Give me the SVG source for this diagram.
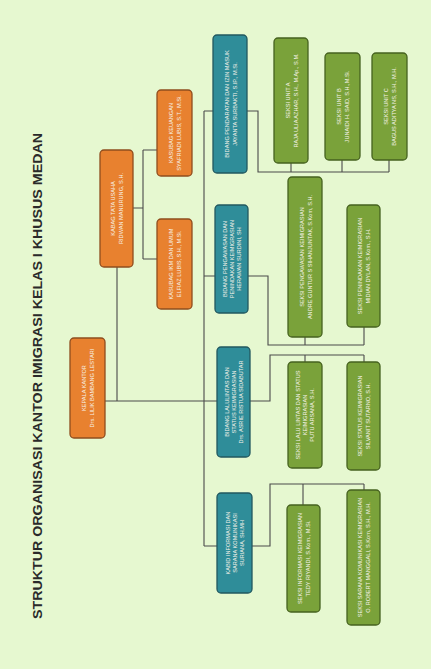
<svg xmlns="http://www.w3.org/2000/svg" width="431" height="669" viewBox="0 0 431 669">
<style>
.bg{fill:#e6f8d0}
.or rect{fill:#e8812f;stroke:#8f4d1e;stroke-width:1.3}
.te rect{fill:#2f8d99;stroke:#22585f;stroke-width:1.3}
.gr rect{fill:#7aa23a;stroke:#46621f;stroke-width:1.3}
.node text{fill:#f7f3ea;font-family:"Liberation Sans",Arial,sans-serif;font-size:5.6px;text-anchor:middle}
.title{fill:#2a2a2a;font-family:"Liberation Sans",Arial,sans-serif;font-size:12px;font-weight:bold;text-anchor:middle}
#connectors path{fill:none;stroke:#4a4a4a;stroke-width:1.1}
</style>
<rect class="bg" x="0" y="0" width="431" height="669"/>
<text class="title" transform="translate(42,376) rotate(-90)" textLength="486" lengthAdjust="spacingAndGlyphs">STRUKTUR ORGANISASI KANTOR IMIGRASI KELAS I KHUSUS MEDAN</text>
<g id="connectors">
<path d="M105,401 H204 M117,267 V401 M204,111 V546 M204,111 H213 M204,276 H215 M204,401 H217 M204,546 H217"/>
<path d="M132,208 H143 M143,150 V259 M143,150 H157 M143,259 H157"/>
<path d="M247,111 H258 V172 H389 M291,163 V172 M342,160 V172 M389,160 V172"/>
<path d="M248,276 H268 V345 H364 M305,337 V345 M364,327 V345"/>
<path d="M250,401 H270 V355 H364 M305,355 V362 M364,355 V362"/>
<path d="M252,546 H270 V484 H364 M303,484 V505 M364,484 V490"/>
</g>
<g id="n-kepala" class="node or" transform="translate(87.5,388) rotate(-90)">
<rect x="-50" y="-17.5" width="100" height="35" rx="4"/>
<text y="-1.5">KEPALA KANTOR</text><text y="6.5">Drs. LILIK BAMBANG LESTARI</text>
</g>
<g id="n-kabag-tu" class="node or" transform="translate(116.5,208.5) rotate(-90)">
<rect x="-58.5" y="-16.5" width="117" height="33" rx="4"/>
<text y="-1.5">KABAG TATA USAHA</text><text y="6.5">RIDWAN MANURUNG, S.H.</text>
</g>
<g id="n-keuangan" class="node or" transform="translate(174.5,133) rotate(-90)">
<rect x="-43" y="-17.5" width="86" height="35" rx="4"/>
<text y="-1.5">KASUBAG KEUANGAN</text><text y="6.5">SYAFRIADI LUBIS, S.T., M.Si.</text>
</g>
<g id="n-umum" class="node or" transform="translate(174.5,264) rotate(-90)">
<rect x="-45" y="-17.5" width="90" height="35" rx="4"/>
<text y="-1.5">KASUBAG IKM DAN UMUM</text><text y="6.5">ELFIAZ LUBIS, S.H., M.Si.</text>
</g>
<g id="n-pendaratan" class="node te" transform="translate(230,104) rotate(-90)">
<rect x="-69" y="-17" width="138" height="34" rx="4"/>
<text y="-1.5">BIDANG PENDARATAN DAN IZIN MASUK</text><text y="6.5">JAYANTA SURBAKTI, S.IP., M.Si.</text>
</g>
<g id="n-pengawasan" class="node te" transform="translate(231.5,259) rotate(-90)">
<rect x="-54" y="-16.5" width="108" height="33" rx="4"/>
<text y="-5">BIDANG PENGAWASAN DAN</text><text y="2">PENINDAKAN KEIMIGRASIAN</text><text y="9">HERAWAN SURDINI, SH</text>
</g>
<g id="n-lalulintas" class="node te" transform="translate(233.5,402) rotate(-90)">
<rect x="-55" y="-16.5" width="110" height="33" rx="4"/>
<text y="-5">BIDANG LALULINTAS DAN</text><text y="2">STATUS KEIMIGRASIAN</text><text y="9">Drs. ASRIE RISTUA SIDABUTAR</text>
</g>
<g id="n-informasi" class="node te" transform="translate(234.5,543) rotate(-90)">
<rect x="-50" y="-17.5" width="100" height="35" rx="4"/>
<text y="-5">KABID INFORMASI DAN</text><text y="2">SARANA KOMUNIKASI</text><text y="9">SURIANA, SH.MH</text>
</g>
<g id="n-unit-a" class="node gr" transform="translate(291,100.5) rotate(-90)">
<rect x="-62.5" y="-17" width="125" height="34" rx="4"/>
<text y="-1.5">SEKSI UNIT A</text><text y="6.5">RAJA ULIA AZHAR, S.H., M.Ap., S.M.</text>
</g>
<g id="n-unit-b" class="node gr" transform="translate(342.5,106.5) rotate(-90)">
<rect x="-53.5" y="-17.5" width="107" height="35" rx="4"/>
<text y="-1.5">SEKSI UNIT B</text><text y="6.5">JUNAIDI H. SAID, S.H.,M.Si.</text>
</g>
<g id="n-unit-c" class="node gr" transform="translate(389.5,106.5) rotate(-90)">
<rect x="-53.5" y="-17.5" width="107" height="35" rx="4"/>
<text y="-1.5">SEKSI UNIT C</text><text y="6.5">BAGUS ADITYA NS, S.H., M.H.</text>
</g>
<g id="n-s-pengawasan" class="node gr" transform="translate(305,257) rotate(-90)">
<rect x="-80" y="-17" width="160" height="34" rx="4"/>
<text y="-1.5">SEKSI PENGAWASAN KEIMIGRASIAN</text><text y="6.5">ANDRE GUNTUR S SIHANJUNTAK, S.Kom, S.H.</text>
</g>
<g id="n-s-penindakan" class="node gr" transform="translate(363.5,266) rotate(-90)">
<rect x="-61" y="-16.5" width="122" height="33" rx="4"/>
<text y="-1.5">SEKSI PENINDAKAN KEIMIGRASIAN</text><text y="6.5">MIDIAN DYLAN, S.Kom., S.H.</text>
</g>
<g id="n-s-lalulintas" class="node gr" transform="translate(305,415) rotate(-90)">
<rect x="-53" y="-17" width="106" height="34" rx="4"/>
<text y="-5">SEKSI LALU LINTAS DAN STATUS</text><text y="2">KEIMIGRASIAN</text><text y="9">PUTU ARSANA, S.H.</text>
</g>
<g id="n-s-status" class="node gr" transform="translate(363.5,416) rotate(-90)">
<rect x="-54" y="-16.5" width="108" height="33" rx="4"/>
<text y="-1.5">SEKSI STATUS KEIMIGRASIAN</text><text y="6.5">SILVANIT SUTARNO, S.H.</text>
</g>
<g id="n-s-informasi" class="node gr" transform="translate(303.5,558.5) rotate(-90)">
<rect x="-53.5" y="-16.5" width="107" height="33" rx="4"/>
<text y="-1.5">SEKSI INFORMASI KEIMIGRASIAN</text><text y="6.5">TEDY RIYANDI, S.Kom., M.Si.</text>
</g>
<g id="n-s-sarana" class="node gr" transform="translate(363.5,557.5) rotate(-90)">
<rect x="-67.5" y="-16.5" width="135" height="33" rx="4"/>
<text y="-1.5">SEKSI SARANA KOMUNIKASI KEIMIGRASIAN</text><text y="6.5">O. ROBERT MANGGALI, S.Kom, S.H., M.H.</text>
</g>
</svg>
